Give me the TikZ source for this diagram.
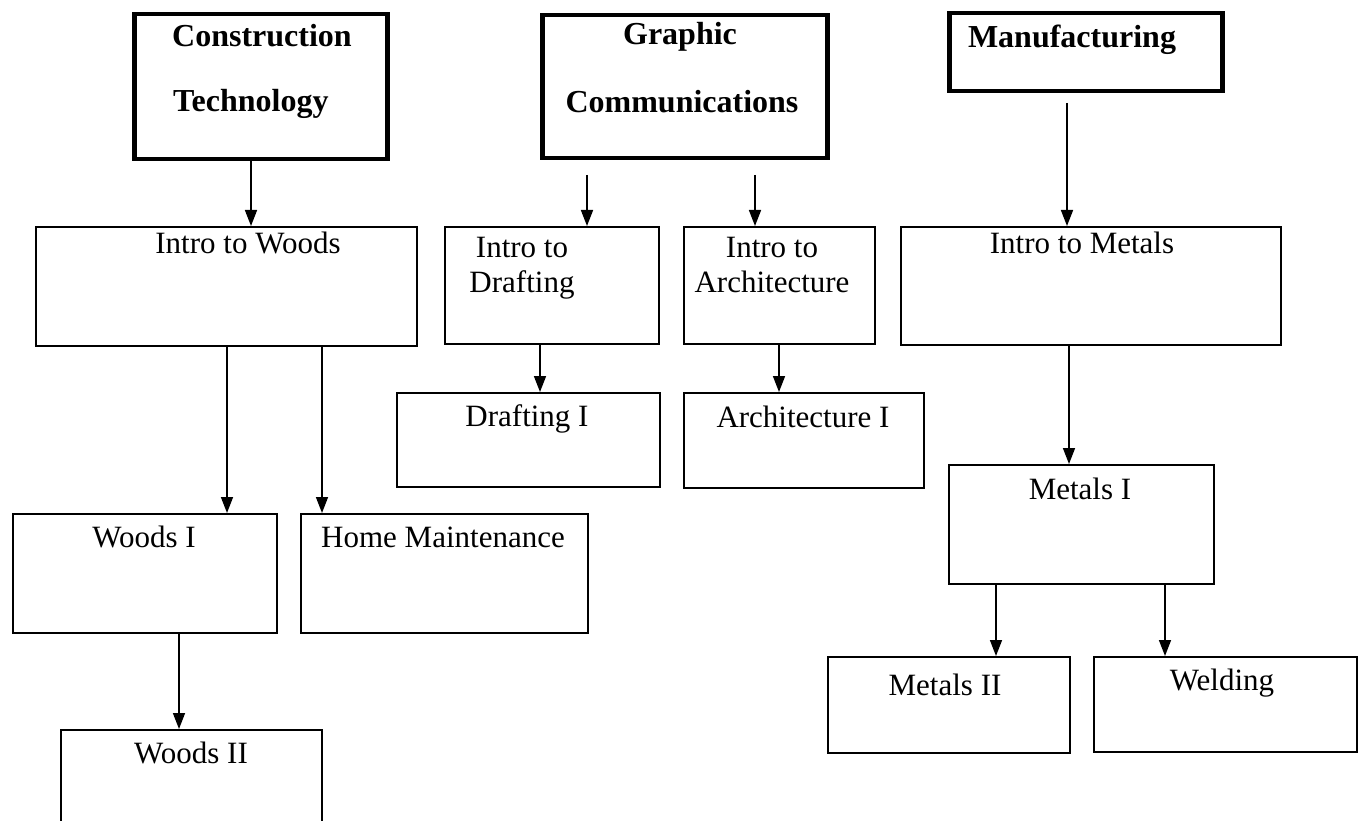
\documentclass[tikz,border=0pt]{standalone}
\usepackage{fontspec}
\setmainfont{Liberation Serif}
\usetikzlibrary{arrows.meta}
\begin{document}
\begin{tikzpicture}[x=1pt,y=-1pt,
  box/.style={draw, line width=2.4pt, rectangle, inner sep=0pt, anchor=north west},
  headbox/.style={draw, line width=4.5pt, rectangle, inner sep=0pt, anchor=north west},
  txt/.style={anchor=base, inner sep=0pt, font=\fontsize{31}{37}\selectfont},
  htxt/.style={anchor=base, inner sep=0pt, font=\fontsize{32}{38}\selectfont\bfseries},
  arr/.style={line width=1.6pt, -{Triangle[length=16pt,width=12pt]}}]
\useasboundingbox[fill=white] (0,0) rectangle (1361,821);
% boxes
\node[headbox, minimum width=253pt, minimum height=145pt] (ct) at (132,12) {};
\node[headbox, minimum width=285pt, minimum height=143pt] (gc) at (540,13) {};
\node[headbox, minimum width=273pt, minimum height=78pt] (mf) at (947,11) {};
\node[box, minimum width=381pt, minimum height=119pt] (iw) at (35,226) {};
\node[box, minimum width=214pt, minimum height=117pt] (id) at (444,226) {};
\node[box, minimum width=191pt, minimum height=117pt] (ia) at (683,226) {};
\node[box, minimum width=380pt, minimum height=118pt] (im) at (900,226) {};
\node[box, minimum width=263pt, minimum height=94pt] (d1) at (396,392) {};
\node[box, minimum width=240pt, minimum height=95pt] (a1) at (683,392) {};
\node[box, minimum width=264pt, minimum height=119pt] (w1) at (12,513) {};
\node[box, minimum width=287pt, minimum height=119pt] (hm) at (300,513) {};
\node[box, minimum width=261pt, minimum height=110pt] (w2) at (60,729) {};
\node[box, minimum width=265pt, minimum height=119pt] (m1) at (948,464) {};
\node[box, minimum width=242pt, minimum height=96pt] (m2) at (827,656) {};
\node[box, minimum width=263pt, minimum height=95pt] (wd) at (1093,656) {};
% texts
\node[htxt, anchor=base west] (tct1) at (172,47) {Construction};
\node[htxt, anchor=base west] (tct2) at (173,112) {Technology};
\node[htxt] (tgc1) at (680,45) {Graphic};
\node[htxt] (tgc2) at (682,113) {Communications};
\node[htxt] (tmf) at (1072,48) {Manufacturing};
\node[txt] (tiw) at (248,254) {Intro to Woods};
\node[txt] (tid1) at (522,258) {Intro to};
\node[txt] (tid2) at (522,293) {Drafting};
\node[txt] (tia1) at (772,258) {Intro to};
\node[txt] (tia2) at (772,293) {Architecture};
\node[txt] (tim) at (1082,254) {Intro to Metals};
\node[txt] (td1) at (527,426) {Drafting I};
\node[txt] (ta1) at (803,427) {Architecture I};
\node[txt] (tw1) at (144,547) {Woods I};
\node[txt] (thm) at (443,547) {Home Maintenance};
\node[txt] (tw2) at (191,763) {Woods II};
\node[txt] (tm1) at (1080,499) {Metals I};
\node[txt] (tm2) at (945,695) {Metals II};
\node[txt] (twd) at (1222,690) {Welding};
% arrow positions
\coordinate (xa) at (251,0);
\coordinate (g1) at (587,175);
\coordinate (g2) at (755,175);
\coordinate (mfs) at (1067,103);
\coordinate (xb) at (227,0);
\coordinate (xc) at (322,0);
\coordinate (xd) at (540,0);
\coordinate (xe) at (779,0);
\coordinate (xf) at (1069,0);
\coordinate (xg) at (179,0);
\coordinate (xh) at (996,0);
\coordinate (xi) at (1165,0);
% connectors
\draw[arr] (ct.south -| xa) -- (iw.north -| xa);
\draw[arr] (g1) -- (id.north -| g1);
\draw[arr] (g2) -- (ia.north -| g2);
\draw[arr] (mfs) -- (im.north -| mfs);
\draw[arr] (iw.south -| xb) -- (w1.north -| xb);
\draw[arr] (iw.south -| xc) -- (hm.north -| xc);
\draw[arr] (id.south -| xd) -- (d1.north -| xd);
\draw[arr] (ia.south -| xe) -- (a1.north -| xe);
\draw[arr] (im.south -| xf) -- (m1.north -| xf);
\draw[arr] (w1.south -| xg) -- (w2.north -| xg);
\draw[arr] (m1.south -| xh) -- (m2.north -| xh);
\draw[arr] (m1.south -| xi) -- (wd.north -| xi);
\end{tikzpicture}
\end{document}
